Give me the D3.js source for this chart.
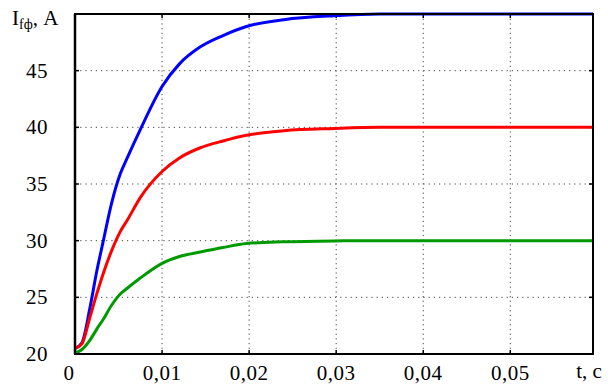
<!DOCTYPE html>
<html>
<head>
<meta charset="utf-8">
<script src="https://cdn.jsdelivr.net/npm/d3@7"></script>
<style>
  body { margin: 0; background: #fff; }
  text { font-family: "Liberation Serif", "DejaVu Serif", serif; fill: #000; }
</style>
</head>
<body>
<div id="canvas"></div>
<script>
const MARGIN = { LEFT: 75, RIGHT: 15, TOP: 14, BOTTOM: 31 };
const W = 608, H = 385;
const WIDTH = W - MARGIN.LEFT - MARGIN.RIGHT;
const HEIGHT = H - MARGIN.TOP - MARGIN.BOTTOM;

// data: time, s and current, A
const time = [0, 0.0008, 0.0017, 0.0025, 0.0032, 0.0042, 0.0052, 0.0060, 0.0075, 0.0100, 0.0120, 0.0144, 0.0170, 0.0197, 0.0240, 0.0298, 0.0350, 0.0595];
const blue  = [20.5, 21.0, 24.0, 27.3, 29.8, 33.3, 35.9, 37.3, 39.8, 43.6, 45.6, 47.1, 48.1, 48.9, 49.5, 49.85, 50, 50];
const red   = [20.5, 20.9, 23.2, 25.3, 27.0, 29.1, 30.8, 31.8, 33.8, 36.1, 37.3, 38.2, 38.8, 39.3, 39.7, 39.9, 40, 40];
const green = [20.1, 20.4, 21.2, 22.2, 23.0, 24.3, 25.3, 25.8, 26.7, 28.0, 28.6, 29.0, 29.4, 29.75, 29.9, 29.98, 30, 30];

const xTicks = [0, 0.01, 0.02, 0.03, 0.04, 0.05];
const xTickLabels = ['0', '0,01', '0,02', '0,03', '0,04', '0,05'];
const yTicks = [20, 25, 30, 35, 40, 45, 50];
const yTickLabels = ['20', '25', '30', '35', '40', '45'];

const series = [
  { values: blue, color: '#0000ff' },
  { values: red, color: '#ff0000' },
  { values: green, color: '#009a00' }
];

const svg = d3.select('#canvas').append('svg')
  .attr('width', W)
  .attr('height', H);

const g = svg.append('g')
  .attr('transform', `translate(${MARGIN.LEFT}, ${MARGIN.TOP})`);

const x = d3.scaleLinear().domain([0, 0.0595]).range([0, WIDTH]);
const y = d3.scaleLinear().domain([20, 50]).range([HEIGHT, 0]);

// dotted grid
g.selectAll('.vgrid').data(xTicks.slice(1)).enter().append('line')
  .attr('x1', d => x(d)).attr('x2', d => x(d))
  .attr('y1', 0).attr('y2', HEIGHT)
  .attr('stroke', '#444').attr('stroke-width', 1)
  .attr('stroke-dasharray', '1.2,3.5');

g.selectAll('.hgrid').data(yTicks.slice(1, -1)).enter().append('line')
  .attr('x1', 0).attr('x2', WIDTH)
  .attr('y1', d => y(d)).attr('y2', d => y(d))
  .attr('stroke', '#444').attr('stroke-width', 1)
  .attr('stroke-dasharray', '1.2,4');

// small solid ticks inside the frame
const tk = 4;
xTicks.slice(1).forEach(t => {
  g.append('line').attr('x1', x(t)).attr('x2', x(t)).attr('y1', HEIGHT).attr('y2', HEIGHT - tk)
    .attr('stroke', '#000').attr('stroke-width', 1.5);
  g.append('line').attr('x1', x(t)).attr('x2', x(t)).attr('y1', 0).attr('y2', tk)
    .attr('stroke', '#000').attr('stroke-width', 1.5);
});
yTicks.slice(1, -1).forEach(v => {
  g.append('line').attr('x1', 0).attr('x2', tk).attr('y1', y(v)).attr('y2', y(v))
    .attr('stroke', '#000').attr('stroke-width', 1.5);
  g.append('line').attr('x1', WIDTH).attr('x2', WIDTH - tk).attr('y1', y(v)).attr('y2', y(v))
    .attr('stroke', '#000').attr('stroke-width', 1.5);
});

// curves
const line = d3.line()
  .x((d, i) => x(time[i]))
  .y(d => y(d))
  .curve(d3.curveMonotoneX);

g.selectAll('.curve').data(series).enter().append('path')
  .attr('d', d => line(d.values))
  .attr('fill', 'none')
  .attr('stroke', d => d.color)
  .attr('stroke-width', 3)
  .attr('stroke-linejoin', 'round');

// frame
g.append('rect')
  .attr('x', 0).attr('y', 0)
  .attr('width', WIDTH).attr('height', HEIGHT)
  .attr('fill', 'none').attr('stroke', '#000').attr('stroke-width', 2);
g.append('line').attr('x1', 0).attr('x2', 0).attr('y1', 0).attr('y2', HEIGHT)
  .attr('stroke', '#000').attr('stroke-width', 2.5);

// tick labels
g.selectAll('.ylab').data(yTickLabels).enter().append('text')
  .attr('x', -27).attr('y', (d, i) => y(yTicks[i]))
  .attr('dy', '0.34em')
  .attr('text-anchor', 'end')
  .style('font-size', '21px')
  .style('letter-spacing', '0.5px')
  .text(d => d);

g.selectAll('.xlab').data(xTickLabels).enter().append('text')
  .attr('x', (d, i) => x(xTicks[i]) - (i === 0 ? 6 : 0))
  .attr('y', HEIGHT + 26)
  .attr('text-anchor', 'middle')
  .style('font-size', '21px')
  .style('letter-spacing', '0.5px')
  .text(d => d);

// axis titles
g.append('text')
  .attr('x', 589 - MARGIN.LEFT).attr('y', HEIGHT + 24)
  .attr('text-anchor', 'middle')
  .style('font-size', '21px')
  .text('t, c');

const yt = svg.append('text')
  .attr('x', 12).attr('y', 25)
  .style('font-size', '21px');
yt.append('tspan').text('I');
yt.append('tspan').attr('dy', 4).style('font-size', '14px').text('fф');
yt.append('tspan').attr('dy', -4).text(', A');
</script>
</body>
</html>
